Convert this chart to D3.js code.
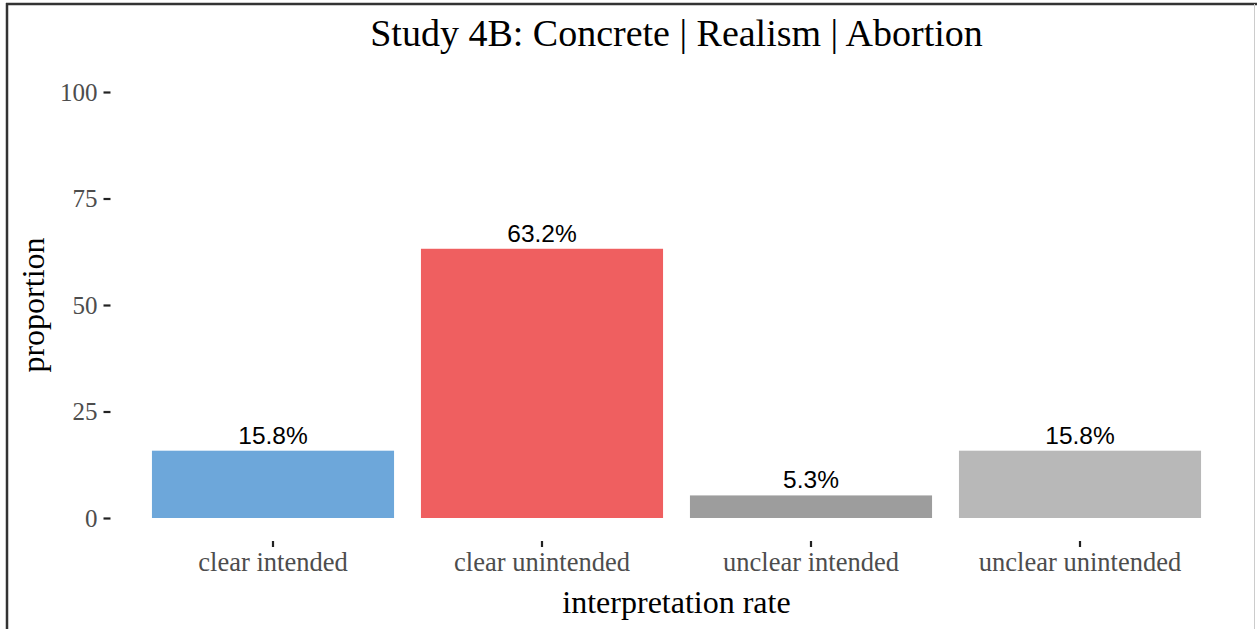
<!DOCTYPE html>
<html><head><meta charset="utf-8">
<script src="https://cdn.jsdelivr.net/npm/d3@7"></script>
<style>body{margin:0;background:#fff}svg{display:block}</style>
</head><body>
<script>
const categories = ["clear intended","clear unintended","unclear intended","unclear unintended"];
const values = [15.8, 63.2, 5.3, 15.8];
const valueLabels = ["15.8%","63.2%","5.3%","15.8%"];
const colors = ["#6da7da","#ef5f60","#9d9d9d","#b8b8b8"];
const yTicks = [0,25,50,75,100];
const title = "Study 4B: Concrete | Realism | Abortion";

const W=1257,H=629;
const svg=d3.select("body").append("svg").attr("width",W).attr("height",H);
svg.append("rect").attr("width",W).attr("height",H).attr("fill","#fff");
// frame
svg.append("line").attr("x1",7).attr("x2",7).attr("y1",3).attr("y2",H).attr("stroke","#333").attr("stroke-width",2.5);
svg.append("line").attr("x1",6).attr("x2",W).attr("y1",4).attr("y2",4).attr("stroke","#333").attr("stroke-width",2.5);
svg.append("line").attr("x1",1254.5).attr("x2",1254.5).attr("y1",4).attr("y2",H).attr("stroke","#ccc").attr("stroke-width",1);

const x=d3.scaleBand().domain(categories).range([111.6,1241.4]).paddingInner(0.1).paddingOuter(0.15);
const y=d3.scaleLinear().domain([0,100]).range([518,92]);
const serif="'Liberation Serif','Times New Roman',serif";
const sans="'Liberation Sans',Arial,sans-serif";

// y axis
const ya=svg.append("g").attr("transform","translate(110.5,0)")
  .call(d3.axisLeft(y).tickValues(yTicks).tickSize(7).tickPadding(6));
ya.select(".domain").remove();
ya.selectAll(".tick line").attr("stroke","#222").attr("stroke-width",2.2);
ya.selectAll(".tick text").attr("font-family",serif).attr("font-size",25).attr("fill","#4d4d4d");

// x axis
const xa=svg.append("g").attr("transform","translate(0,541)")
  .call(d3.axisBottom(x).tickSize(6).tickPadding(7));
xa.select(".domain").remove();
xa.selectAll(".tick line").attr("stroke","#222").attr("stroke-width",2.2);
xa.selectAll(".tick text").attr("font-family",serif).attr("font-size",26.5).attr("fill","#4d4d4d")
  .attr("y",30).attr("dy",0);

// bars
svg.selectAll("rect.bar").data(values).enter().append("rect").attr("class","bar")
  .attr("x",(d,i)=>x(categories[i])).attr("width",x.bandwidth())
  .attr("y",d=>y(d)).attr("height",d=>y(0)-y(d))
  .attr("fill",(d,i)=>colors[i]);

svg.selectAll("text.val").data(values).enter().append("text").attr("class","val")
  .attr("x",(d,i)=>x(categories[i])+x.bandwidth()/2).attr("y",d=>y(d)-7)
  .attr("text-anchor","middle").attr("font-family",sans).attr("font-size",24.5).attr("fill","#000")
  .text((d,i)=>valueLabels[i]);

svg.append("text").attr("x",676.5).attr("y",46).attr("text-anchor","middle")
  .attr("font-family",serif).attr("font-size",38).attr("fill","#000").text(title);
svg.append("text").attr("x",676.5).attr("y",613).attr("text-anchor","middle")
  .attr("font-family",serif).attr("font-size",32).attr("fill","#000").text("interpretation rate");
svg.append("text").attr("transform","translate(44,305) rotate(-90)").attr("text-anchor","middle")
  .attr("font-family",serif).attr("font-size",32).attr("fill","#000").text("proportion");
</script>
</body></html>
